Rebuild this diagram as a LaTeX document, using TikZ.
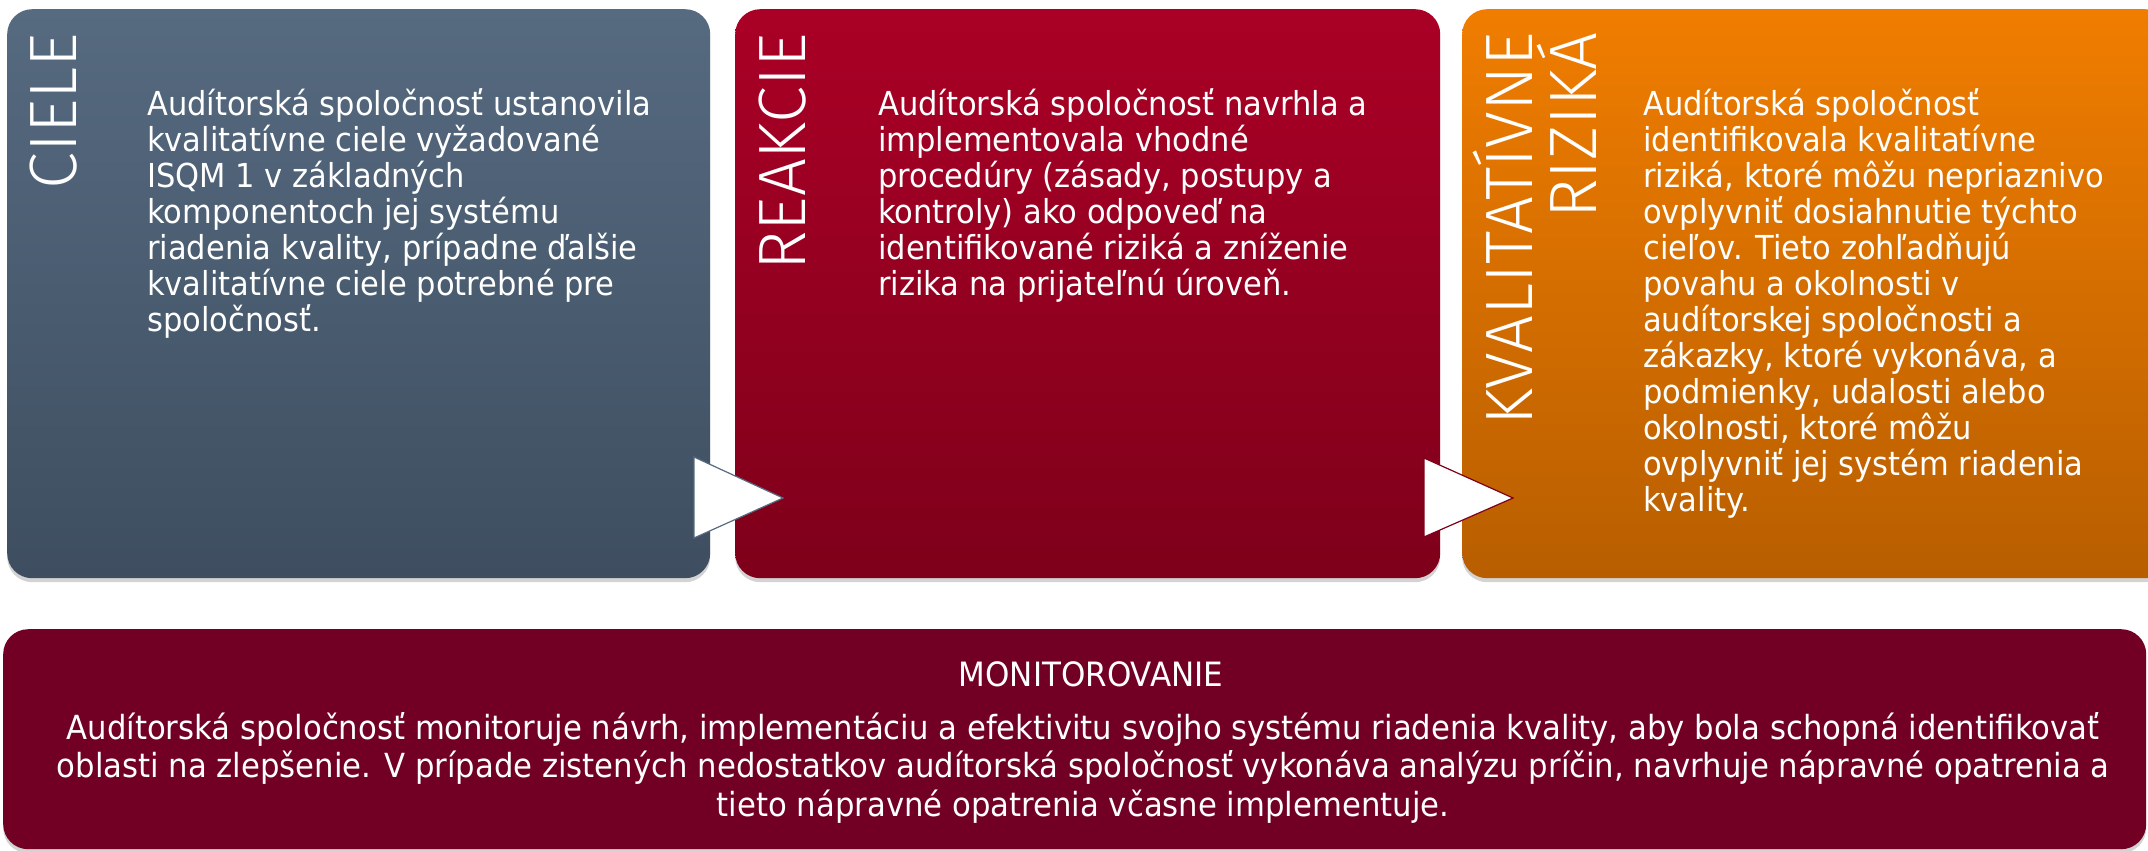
\documentclass[tikz,border=0pt]{standalone}
\usepackage{fontspec}
\setmainfont{DejaVu Sans}[FakeStretch=0.925]
\newfontfamily\titlefont{Fira Sans}[UprightFont=* Light]
\usepackage{xcolor}
\usetikzlibrary{shadows}

\definecolor{slatetop}{HTML}{566A80}
\definecolor{slatebot}{HTML}{3E4E60}
\definecolor{redtop}{HTML}{AA0026}
\definecolor{redbot}{HTML}{7E001A}
\definecolor{orangetop}{HTML}{F07D00}
\definecolor{orangebot}{HTML}{B85E00}
\definecolor{monred}{HTML}{720024}

\tikzset{
  panel/.style={rounded corners=25pt, anchor=north west, inner sep=0pt,
    drop shadow={shadow xshift=0pt, shadow yshift=-4pt, opacity=0.35}},
  heading/.style={rotate=90, text=white, inner sep=0pt,
    font=\titlefont\fontsize{67}{64}\selectfont},
  bodytext/.style={text=white, inner sep=0pt, align=left, anchor=north west,
    font=\fontsize{33}{36}\selectfont},
  flowtip/.style={fill=white, line width=1.2pt, line join=miter}
}

\begin{document}
\begin{tikzpicture}[x=1pt, y=-1pt]
        \useasboundingbox (0,0) rectangle (2148,851);
        % Draw the three panels
        \node[panel, top color=slatetop, bottom color=slatebot,
          minimum width=703pt, minimum height=569pt] (ciele) at (7,9) {};
        \node[panel, top color=redtop, bottom color=redbot,
          minimum width=705pt, minimum height=569pt] (reakcie) at (735,9) {};
        \node[panel, top color=orangetop, bottom color=orangebot,
          minimum width=708pt, minimum height=569pt] (rizika) at (1462,9) {};
        % Draw the monitoring panel
        \node[panel, fill=monred,
          minimum width=2143pt, minimum height=220pt] (monitor) at (3,629) {};

        % Draw arrows
        \draw[flowtip, draw=slatetop] (694,457) -- (783,498) -- (694,538) -- cycle;
        \draw[flowtip, draw=redbot] (1424,458) -- (1513,498) -- (1424,537) -- cycle;

        % Headings
        \node[heading, anchor=base east] (cieletitle) at (76,33) {CIELE};
        \node[heading, anchor=base east] (reakcietitle) at (805,33) {REAKCIE};
        \node[heading, align=right, anchor=south east] (rizikatitle) at (1597,32)
          {KVALITATÍVNE\\RIZIKÁ};

        % Panel texts
        \node[bodytext] (cieletext) at (147,88) {Audítorská spoločnosť ustanovila\\
          kvalitatívne ciele vyžadované\\ ISQM 1 v základných\\
          komponentoch jej systému\\ riadenia kvality, prípadne ďalšie\\
          kvalitatívne ciele potrebné pre\\ spoločnosť.};
        \node[bodytext] (reakcietext) at (878,88) {Audítorská spoločnosť navrhla a\\
          implementovala vhodné\\ procedúry (zásady, postupy a\\
          kontroly) ako odpoveď na\\ identifikované riziká a zníženie\\
          rizika na prijateľnú úroveň.};
        \node[bodytext] (rizikatext) at (1643,88) {Audítorská spoločnosť\\
          identifikovala kvalitatívne\\ riziká, ktoré môžu nepriaznivo\\
          ovplyvniť dosiahnutie týchto\\ cieľov. Tieto zohľadňujú\\
          povahu a okolnosti v\\ audítorskej spoločnosti a\\
          zákazky, ktoré vykonáva, a\\ podmienky, udalosti alebo\\
          okolnosti, ktoré môžu\\ ovplyvniť jej systém riadenia\\ kvality.};

        % Monitoring text
        \node[bodytext, anchor=base, font=\fontsize{33.5}{36}\selectfont] (monhead)
          at (1091,686) {MONITOROVANIE};
        \node[bodytext, align=center, anchor=north, font=\fontsize{33.2}{38.5}\selectfont]
          (montext) at (1083,712)
          {Audítorská spoločnosť monitoruje návrh, implementáciu a efektivitu svojho systému riadenia kvality, aby bola schopná identifikovať\\
          oblasti na zlepšenie. V prípade zistených nedostatkov audítorská spoločnosť vykonáva analýzu príčin, navrhuje nápravné opatrenia a\\
          tieto nápravné opatrenia včasne implementuje.};
\end{tikzpicture}
\end{document}
